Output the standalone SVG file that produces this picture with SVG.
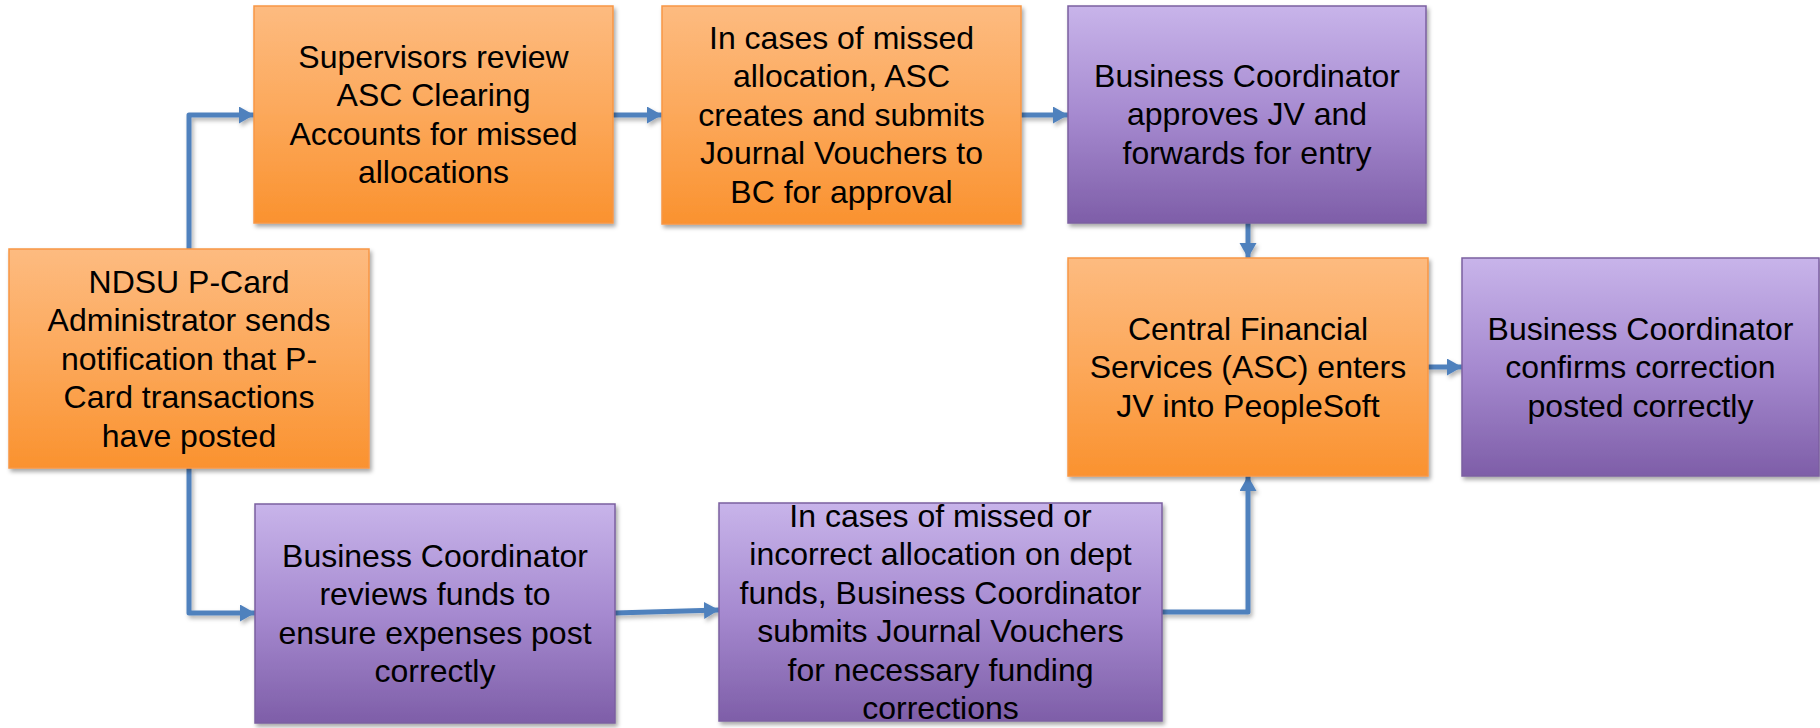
<svg xmlns="http://www.w3.org/2000/svg" width="1820" height="728" viewBox="0 0 1820 728">
<style>
  .lbl { font-family: "Liberation Sans", Arial, sans-serif; font-size: 32px; fill: #000; text-anchor: middle; }
  .orange { fill: url(#gOrange); stroke: #F79646; stroke-width: 1.5; filter: url(#shadow); }
  .purple { fill: url(#gPurple); stroke: #7B5FA0; stroke-width: 1.5; filter: url(#shadow); }
  .conn { fill: none; stroke: #4F81BD; stroke-width: 5; stroke-linejoin: round; marker-end: url(#arrow); }
</style>
<defs>
  <linearGradient id="gOrange" x1="0" y1="0" x2="0" y2="1">
    <stop offset="0" stop-color="#FDBB80"/>
    <stop offset="0.5" stop-color="#FCA85A"/>
    <stop offset="1" stop-color="#FA922F"/>
  </linearGradient>
  <linearGradient id="gPurple" x1="0" y1="0" x2="0" y2="1">
    <stop offset="0" stop-color="#C8B4EA"/>
    <stop offset="0.5" stop-color="#A68AD0"/>
    <stop offset="1" stop-color="#7E5EA8"/>
  </linearGradient>
  <filter id="shadow" x="-10%" y="-10%" width="130%" height="130%">
    <feDropShadow dx="2" dy="3" stdDeviation="2" flood-color="#000" flood-opacity="0.35"/>
  </filter>
  <filter id="connShadow" filterUnits="userSpaceOnUse" x="0" y="0" width="1820" height="728">
    <feDropShadow dx="2" dy="3" stdDeviation="2" flood-color="#000" flood-opacity="0.3"/>
  </filter>
  <marker id="arrow" markerUnits="userSpaceOnUse" markerWidth="16" markerHeight="18" refX="15" refY="8.5" orient="auto">
    <path d="M0,0 L15,8.5 L0,17 z" fill="#4F81BD"/>
  </marker>
</defs>

<g id="connectors" filter="url(#connShadow)">
  <path class="conn" d="M189,249 V115 H254"/>
  <path class="conn" d="M189,468 V613 H255"/>
  <path class="conn" d="M613,115 H662"/>
  <path class="conn" d="M1021,115 H1068"/>
  <path class="conn" d="M1248,223 V258"/>
  <path class="conn" d="M1428,367 H1462"/>
  <path class="conn" d="M615,613 L719,610"/>
  <path class="conn" d="M1162,612 H1248 V476"/>
</g>

<g id="node-ndsu">
  <rect class="orange" x="9" y="249" width="360" height="219"/>
  <text class="lbl" x="189" y="293">NDSU P-Card</text>
  <text class="lbl" x="189" y="331.4">Administrator sends</text>
  <text class="lbl" x="189" y="369.8">notification that P-</text>
  <text class="lbl" x="189" y="408.2">Card transactions</text>
  <text class="lbl" x="189" y="446.6">have posted</text>
</g>

<g id="node-supervisors">
  <rect class="orange" x="254" y="6" width="359" height="217"/>
  <text class="lbl" x="433.5" y="68">Supervisors review</text>
  <text class="lbl" x="433.5" y="106.4">ASC Clearing</text>
  <text class="lbl" x="433.5" y="144.8">Accounts for missed</text>
  <text class="lbl" x="433.5" y="183.2">allocations</text>
</g>

<g id="node-asc-jv">
  <rect class="orange" x="662" y="6" width="359" height="218"/>
  <text class="lbl" x="841.5" y="49">In cases of missed</text>
  <text class="lbl" x="841.5" y="87.4">allocation, ASC</text>
  <text class="lbl" x="841.5" y="125.8">creates and submits</text>
  <text class="lbl" x="841.5" y="164.2">Journal Vouchers to</text>
  <text class="lbl" x="841.5" y="202.6">BC for approval</text>
</g>

<g id="node-bc-approves">
  <rect class="purple" x="1068" y="6" width="358" height="217"/>
  <text class="lbl" x="1247" y="87">Business Coordinator</text>
  <text class="lbl" x="1247" y="125.4">approves JV and</text>
  <text class="lbl" x="1247" y="163.8">forwards for entry</text>
</g>

<g id="node-central">
  <rect class="orange" x="1068" y="258" width="360" height="218"/>
  <text class="lbl" x="1248" y="340">Central Financial</text>
  <text class="lbl" x="1248" y="378.4">Services (ASC) enters</text>
  <text class="lbl" x="1248" y="416.8">JV into PeopleSoft</text>
</g>

<g id="node-bc-confirms">
  <rect class="purple" x="1462" y="258" width="357" height="218"/>
  <text class="lbl" x="1640.5" y="340">Business Coordinator</text>
  <text class="lbl" x="1640.5" y="378.4">confirms correction</text>
  <text class="lbl" x="1640.5" y="416.8">posted correctly</text>
</g>

<g id="node-bc-reviews">
  <rect class="purple" x="255" y="504" width="360" height="219"/>
  <text class="lbl" x="435" y="567">Business Coordinator</text>
  <text class="lbl" x="435" y="605.4">reviews funds to</text>
  <text class="lbl" x="435" y="643.8">ensure expenses post</text>
  <text class="lbl" x="435" y="682.2">correctly</text>
</g>

<g id="node-bc-submits">
  <rect class="purple" x="719" y="503" width="443" height="218"/>
  <text class="lbl" x="940.5" y="527">In cases of missed or</text>
  <text class="lbl" x="940.5" y="565.4">incorrect allocation on dept</text>
  <text class="lbl" x="940.5" y="603.8">funds, Business Coordinator</text>
  <text class="lbl" x="940.5" y="642.2">submits Journal Vouchers</text>
  <text class="lbl" x="940.5" y="680.6">for necessary funding</text>
  <text class="lbl" x="940.5" y="719">corrections</text>
</g>
</svg>
